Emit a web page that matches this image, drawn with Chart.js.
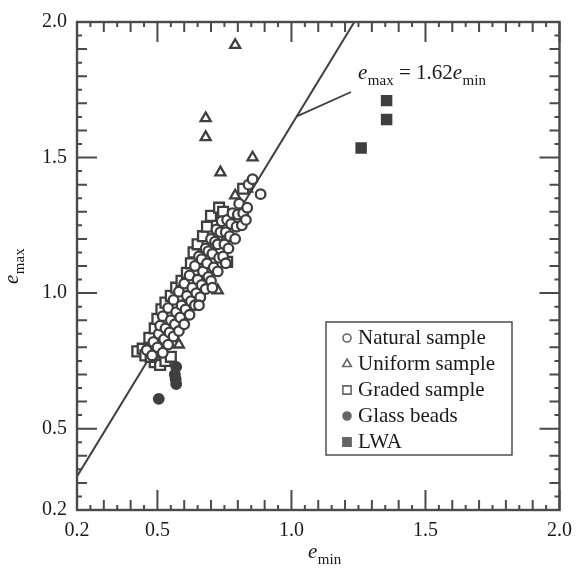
<!DOCTYPE html>
<html><head><meta charset="utf-8">
<script src="https://cdn.jsdelivr.net/npm/chart.js@4/dist/chart.umd.min.js"></script>
<style>html,body{margin:0;padding:0;background:#fff;} #wrap{width:581px;height:570px;}</style>
</head><body><div id="wrap"><canvas id="c" width="581" height="570"></canvas></div>
<script>
// ---- data ----
const xTickLabels = [0.2, 0.5, 1.0, 1.5, 2.0];
const yTickLabels = [0.2, 0.5, 1.0, 1.5, 2.0];
const seriesNames = ["Natural sample", "Uniform sample", "Graded sample", "Glass beads", "LWA"];

const naturalPts = [
 [0.46,0.79],[0.48,0.77],[0.485,0.82],[0.50,0.80],[0.505,0.85],[0.51,0.88],[0.52,0.78],[0.525,0.83],
 [0.53,0.87],[0.52,0.915],[0.54,0.81],[0.545,0.855],[0.55,0.90],[0.54,0.945],[0.56,0.84],[0.565,0.885],
 [0.57,0.93],[0.56,0.975],[0.58,0.86],[0.585,0.91],[0.59,0.955],[0.58,1.005],[0.60,0.885],[0.605,0.94],
 [0.61,0.99],[0.60,1.035],[0.62,0.92],[0.625,0.97],[0.63,1.02],[0.62,1.065],[0.64,0.955],[0.645,1.0],
 [0.65,1.05],[0.64,1.10],[0.655,1.135],[0.66,0.985],[0.665,1.03],[0.67,1.08],[0.665,1.125],[0.68,1.165],
 [0.68,1.015],[0.69,1.06],[0.685,1.11],[0.69,1.155],[0.70,1.20],[0.70,1.045],[0.71,1.095],[0.705,1.145],
 [0.715,1.19],[0.72,1.235],[0.725,1.08],[0.73,1.13],[0.725,1.18],[0.735,1.225],[0.74,1.265],[0.745,1.135],
 [0.75,1.18],[0.755,1.225],[0.76,1.27],[0.765,1.165],[0.77,1.21],[0.775,1.255],[0.78,1.295],[0.79,1.20],
 [0.795,1.245],[0.80,1.29],[0.805,1.33],[0.815,1.25],[0.82,1.295],[0.83,1.27],[0.835,1.315],[0.84,1.40],
 [0.855,1.42],[0.885,1.365],[0.655,0.955],[0.705,1.02],[0.755,1.11]
];
const uniformPts = [
 [0.79,1.915],[0.68,1.645],[0.68,1.575],[0.735,1.445],[0.855,1.50],[0.79,1.36],[0.835,1.385],
 [0.725,1.01],[0.58,0.81]
];
const gradedPts = [
 [0.425,0.785],[0.445,0.795],[0.455,0.77],[0.47,0.835],[0.49,0.87],[0.50,0.905],[0.515,0.94],[0.53,0.965],
 [0.55,0.99],[0.57,1.02],[0.59,1.045],[0.61,1.075],[0.625,1.11],[0.635,1.15],[0.65,1.18],[0.67,1.21],
 [0.685,1.245],[0.70,1.285],[0.73,1.315],[0.745,1.30],[0.49,0.745],[0.51,0.735],[0.53,0.75],[0.475,0.765],
 [0.55,0.765],[0.76,1.115],[0.82,1.385]
];
const glassPts = [[0.505,0.61],[0.57,0.728],[0.565,0.70],[0.568,0.683],[0.57,0.665]];
const lwaPts = [[1.26,1.535],[1.355,1.64],[1.355,1.71]];

// fitted line e_max = 1.62 e_min, drawn between its ends in the frame
const fitX = [0.2, 1.2346];
const fitY = [0.324, 2.0];
// leader line of the label (from the fit line out to the text)
const leaderX = [1.02, 1.222];
const leaderY = [1.652, 1.742];

// ---- styling ----
const INK = '#3f3f3f';
const toXY = a => a.map(p => ({x: p[0], y: p[1]}));

const frameTicks = {
  id: 'frameTicks',
  afterDatasetsDraw(chart) {
    const {ctx, chartArea: a, scales: {x, y}} = chart;
    ctx.save();
    ctx.strokeStyle = '#4a4a4a';
    ctx.lineWidth = 2.4;
    ctx.strokeRect(a.left, a.top, a.right - a.left, a.bottom - a.top);
    ctx.lineWidth = 2;
    const len = i => (i % 10 === 0) ? 20 : (i % 2 === 0 ? 10 : 5);
    for (let i = 4; i <= 40; i++) {
      const v = i * 0.05;
      const px = x.getPixelForValue(v), py = y.getPixelForValue(v);
      const L = len(i);
      ctx.beginPath();
      ctx.moveTo(px, a.bottom); ctx.lineTo(px, a.bottom - L);
      ctx.moveTo(px, a.top); ctx.lineTo(px, a.top + L);
      ctx.moveTo(a.left, py); ctx.lineTo(a.left + L, py);
      ctx.moveTo(a.right, py); ctx.lineTo(a.right - L, py);
      ctx.stroke();
    }
    ctx.restore();
  },
  afterDraw(chart) {
    const {ctx, scales: {x, y}} = chart;
    ctx.save();
    ctx.fillStyle = '#1a1a1a';
    const serif = '"Liberation Serif", "DejaVu Serif", serif';
    function sub(main, subTxt, px, py, size) {
      ctx.font = 'italic ' + size + 'px ' + serif;
      ctx.fillText(main, px, py);
      const w = ctx.measureText(main).width;
      ctx.font = Math.round(size * 0.72) + 'px ' + serif;
      ctx.fillText(subTxt, px + w + 0.5, py + 6);
      return w + 0.5 + ctx.measureText(subTxt).width;
    }
    ctx.textBaseline = 'alphabetic';
    ctx.textAlign = 'left';
    // x title
    sub('e', 'min', 308, 558, 21);
    // y title (rotated)
    ctx.save();
    ctx.translate(18, 284);
    ctx.rotate(-Math.PI / 2);
    sub('e', 'max', 0, 0, 21);
    ctx.restore();
    // leader line
    ctx.strokeStyle = INK;
    ctx.lineWidth = 1.8;
    ctx.beginPath();
    ctx.moveTo(x.getPixelForValue(leaderX[0]), y.getPixelForValue(leaderY[0]));
    ctx.lineTo(x.getPixelForValue(leaderX[1]), y.getPixelForValue(leaderY[1]));
    ctx.stroke();
    // annotation text
    let cx = 358; const by = 79;
    cx += sub('e', 'max', cx, by, 21);
    ctx.font = '21px ' + serif;
    const t = ' = 1.62';
    ctx.fillText(t, cx, by);
    cx += ctx.measureText(t).width;
    sub('e', 'min', cx, by, 21);
    // legend
    const bx = 326, byy = 322, bw = 186, bh = 133;
    ctx.fillStyle = '#fff';
    ctx.fillRect(bx, byy, bw, bh);
    ctx.strokeStyle = '#333';
    ctx.lineWidth = 1.3;
    ctx.strokeRect(bx, byy, bw, bh);
    const ds = chart.data.datasets.filter(d => d.legendRow !== undefined);
    ds.forEach(d => {
      const ry = byy + 16 + d.legendRow * 26;
      ctx.fillStyle = d.backgroundColor === '#fff' ? '#fff' : '#666';
      ctx.strokeStyle = '#666';
      ctx.lineWidth = 1.6;
      Chart.helpers.drawPoint(ctx, {pointStyle: d.pointStyle, radius: d.legendRadius, borderWidth: 1.6}, 347, ry);
      ctx.fillStyle = '#1a1a1a';
      ctx.font = '21px ' + serif;
      ctx.textBaseline = 'middle';
      ctx.fillText(d.label, 358, ry);
    });
    ctx.restore();
  }
};

const mk = (label, pts, style, r, filled, row, lr) => ({
  label, data: toXY(pts), pointStyle: style, pointRadius: r,
  backgroundColor: filled ? INK : '#fff', borderColor: INK, pointBorderWidth: 2.3,
  showLine: false, order: 1, legendRow: row, legendRadius: lr
});

new Chart(document.getElementById('c'), {
  type: 'scatter',
  data: {
    datasets: [
      mk(seriesNames[0], naturalPts, 'circle', 4.8, false, 0, 4),
      mk(seriesNames[2], gradedPts, 'rect', 7, false, 2, 5.8),
      mk(seriesNames[1], uniformPts, 'triangle', 5.8, false, 1, 5),
      mk(seriesNames[3], glassPts, 'circle', 4.8, true, 3, 4),
      mk(seriesNames[4], lwaPts, 'rect', 6.5, true, 4, 5.8),
      {
        label: 'fit', type: 'line',
        data: fitX.map((v, i) => ({x: v, y: fitY[i]})),
        borderColor: INK, borderWidth: 2, pointRadius: 0, fill: false, order: 10
      }
    ]
  },
  options: {
    responsive: false, animation: false,
    layout: {padding: {top: 15, right: 14, left: 0, bottom: 0}},
    plugins: {legend: {display: false}, tooltip: {enabled: false}},
    scales: {
      x: {
        type: 'linear', min: 0.2, max: 2.0,
        grid: {display: false, drawTicks: false}, border: {display: false},
        afterBuildTicks: s => { s.ticks = xTickLabels.map(v => ({value: v})); },
        afterFit: s => { s.height = 60; },
        ticks: {padding: 9, color: '#1a1a1a', font: {family: '"Liberation Serif", serif', size: 20},
                callback: v => Number(v).toFixed(1), maxRotation: 0}
      },
      y: {
        type: 'linear', min: 0.2, max: 2.0,
        grid: {display: false, drawTicks: false}, border: {display: false},
        afterBuildTicks: s => { s.ticks = yTickLabels.map(v => ({value: v})); },
        afterFit: s => { s.width = 77; },
        ticks: {padding: 10, color: '#1a1a1a', font: {family: '"Liberation Serif", serif', size: 20},
                callback: v => Number(v).toFixed(1)}
      }
    }
  },
  plugins: [frameTicks]
});
</script></body></html>
